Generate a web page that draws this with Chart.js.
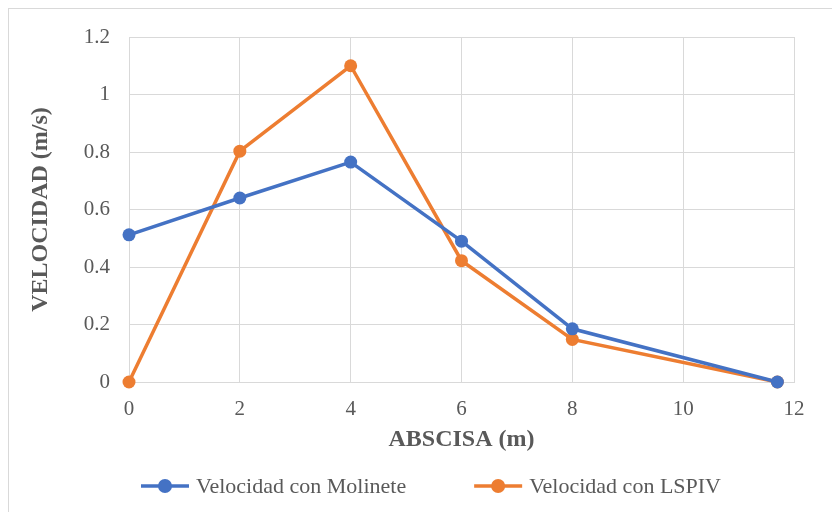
<!DOCTYPE html>
<html>
<head>
<meta charset="utf-8">
<script src="https://cdn.jsdelivr.net/npm/chart.js@4.4.1/dist/chart.umd.min.js"></script>
<style>
  html, body { margin: 0; padding: 0; background: #ffffff; }
  #wrap { position: relative; width: 832px; height: 512px; }
</style>
</head>
<body>
<div id="wrap"><canvas id="c" width="832" height="512"></canvas></div>
<script>
const xValues = [0, 2, 4, 6, 8, 11.7];
const molineteValues = [0.512, 0.64, 0.765, 0.49, 0.185, 0];
const lspivValues = [0, 0.803, 1.1, 0.422, 0.148, 0];
const seriesNames = ['Velocidad con Molinete', 'Velocidad con LSPIV'];
const seriesColors = ['#4472C4', '#ED7D31'];
const xTickLabels = ['0', '2', '4', '6', '8', '10', '12'];
const yTickLabels = ['0', '0.2', '0.4', '0.6', '0.8', '1', '1.2'];
const xTitle = 'ABSCISA (m)';
const yTitle = 'VELOCIDAD (m/s)';

const FONT = '"Liberation Serif", "Times New Roman", serif';
const TEXT = '#595959';
const GRID = '#d9d9d9';

function pts(xs, ys) { return xs.map((x, i) => ({ x: x, y: ys[i] })); }

const frame = {
  id: 'frame',
  beforeDraw(chart) {
    const ctx = chart.ctx;
    ctx.save();
    ctx.fillStyle = '#ffffff';
    ctx.fillRect(0, 0, chart.width, chart.height);
    ctx.strokeStyle = GRID;
    ctx.lineWidth = 1;
    ctx.strokeRect(8.5, 8.5, 1000, 1000);
    ctx.restore();
  }
};

const customLegend = {
  id: 'customLegend',
  afterDraw(chart) {
    const ctx = chart.ctx;
    ctx.save();
    ctx.font = '22px ' + FONT;
    const lineW = 48, gap = 7, itemGap = 68;
    const items = chart.data.datasets.map(d => ({ text: d.label, color: d.borderColor, w: lineW + gap + ctx.measureText(d.label).width }));
    const total = items.reduce((s, it) => s + it.w, 0) + itemGap * (items.length - 1);
    let x = 431 - total / 2;
    const yLine = 486;
    items.forEach(it => {
      ctx.strokeStyle = it.color;
      ctx.lineWidth = 3.5;
      ctx.beginPath();
      ctx.moveTo(x, yLine);
      ctx.lineTo(x + lineW, yLine);
      ctx.stroke();
      ctx.fillStyle = it.color;
      ctx.beginPath();
      ctx.arc(x + lineW / 2, yLine, 7, 0, Math.PI * 2);
      ctx.fill();
      ctx.fillStyle = TEXT;
      ctx.textBaseline = 'alphabetic';
      ctx.textAlign = 'left';
      ctx.fillText(it.text, x + lineW + gap, 493);
      x += it.w + itemGap;
    });
    ctx.restore();
  }
};

new Chart(document.getElementById('c'), {
  type: 'scatter',
  data: {
    datasets: [
      { label: seriesNames[0], data: pts(xValues, molineteValues), showLine: true, borderColor: seriesColors[0], backgroundColor: seriesColors[0], borderWidth: 3.5, pointRadius: 6.5, pointBorderWidth: 0, pointBackgroundColor: seriesColors[0], clip: false },
      { label: seriesNames[1], data: pts(xValues, lspivValues), showLine: true, borderColor: seriesColors[1], backgroundColor: seriesColors[1], borderWidth: 3.5, pointRadius: 6.5, pointBorderWidth: 0, pointBackgroundColor: seriesColors[1], clip: false }
    ]
  },
  options: {
    responsive: false,
    animation: false,
    events: [],
    layout: { padding: { left: 8, right: 38, top: 37, bottom: 48 } },
    plugins: { legend: { display: false }, tooltip: { enabled: false } },
    scales: {
      x: {
        type: 'linear', min: 0, max: 12,
        ticks: { stepSize: 2, padding: 15, color: TEXT, font: { family: FONT, size: 21 }, callback: (v, i) => xTickLabels[i] },
        grid: { color: GRID, lineWidth: 1, drawTicks: false },
        border: { color: GRID, width: 1 },
        title: { display: true, text: xTitle, color: TEXT, font: { family: FONT, size: 24, weight: 'bold' }, padding: { top: 0, bottom: 10 } },
        afterFit(scale) { scale.height = 82; }
      },
      y: {
        type: 'linear', min: 0, max: 1.2,
        ticks: { stepSize: 0.2, padding: 19, color: TEXT, font: { family: FONT, size: 21 }, callback: (v, i) => yTickLabels[i] },
        grid: { color: GRID, lineWidth: 1, drawTicks: false },
        border: { color: GRID, width: 1 },
        title: { display: true, text: yTitle, color: TEXT, font: { family: FONT, size: 24, weight: 'bold' }, padding: { top: 18, bottom: 0 } },
        afterFit(scale) { scale.width = 121; }
      }
    }
  },
  plugins: [frame, customLegend]
});
</script>
</body>
</html>
